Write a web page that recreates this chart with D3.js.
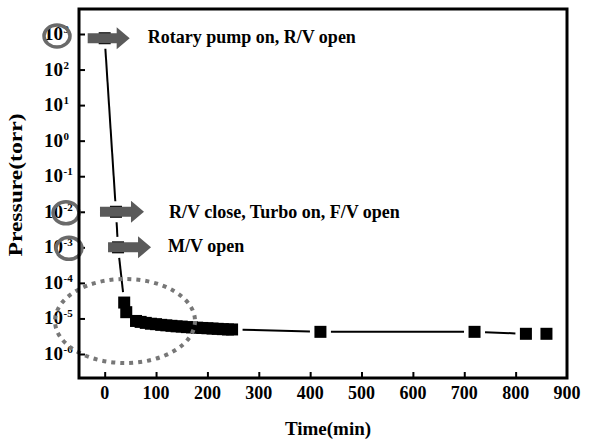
<!DOCTYPE html>
<html>
<head>
<meta charset="utf-8">
<script src="https://cdn.jsdelivr.net/npm/d3@7"></script>
<style>
  html, body { margin: 0; padding: 0; background: #fff; }
  svg { display: block; }
  text { font-family: "Liberation Serif", "Times New Roman", serif; font-weight: bold; fill: #000; }
</style>
</head>
<body>
<svg id="chart" width="594" height="441"></svg>
<script>
// Pump-down record: chamber pressure versus elapsed time
const timeMin = [0, 22, 26, 38, 42, 61, 70, 80, 90, 100, 110, 120, 130, 140, 150,
                 160, 170, 180, 190, 200, 210, 220, 230, 240, 248, 420, 720, 820, 860];
const pressureTorr = [760, 1e-2, 1e-3, 2.8e-5, 1.5e-5, 8.5e-6, 8.0e-6, 7.5e-6, 7.1e-6, 6.9e-6,
                      6.6e-6, 6.4e-6, 6.2e-6, 6.0e-6, 5.9e-6, 5.7e-6, 5.6e-6, 5.5e-6, 5.4e-6,
                      5.3e-6, 5.2e-6, 5.1e-6, 5.0e-6, 4.9e-6, 4.9e-6, 4.2e-6, 4.2e-6, 3.7e-6, 3.7e-6];
const xTickValues = [0, 100, 200, 300, 400, 500, 600, 700, 800, 900];
const yTickExponents = [3, 2, 1, 0, -1, -2, -3, -4, -5, -6];
const calloutTexts = ["Rotary pump on, R/V open", "R/V close, Turbo on, F/V open", "M/V open"];
const calloutPoint = [0, 1, 2];
const circledExponents = [3, -2, -3];
const xTitle = "Time(min)";
const yTitle = "Pressure(torr)";

// Layout of the callouts (pixel offsets from their data point)
const calloutLayout = [
  { tail: -17, tip: 25, text: 43, dy: 5 },
  { tail: -16, tip: 28, text: 53, dy: 6 },
  { tail: -10, tip: 33, text: 50, dy: 5 }
];
const ringLayout = [
  { x: 57, dy: 2 },
  { x: 66, dy: 1 },
  { x: 69, dy: 1 }
];

const svg = d3.select("#chart");
const plot = { left: 79, top: 9, right: 567, bottom: 378 };

const x = d3.scaleLinear().domain([-50, 900]).range([plot.left, plot.right]);
const y = d3.scaleLog().domain([Math.pow(10, -6.675), Math.pow(10, 3.703)]).range([plot.bottom, plot.top]);

const pts = timeMin.map((t, i) => ({ t, p: pressureTorr[i], px: x(t), py: y(pressureTorr[i]) }));

// Axes: ticks point inward
const xAxis = d3.axisBottom(x).tickValues(xTickValues).tickSizeInner(-6).tickSizeOuter(0).tickFormat("");
const gx = svg.append("g").attr("transform", `translate(0,${plot.bottom})`).call(xAxis);
gx.select(".domain").remove();
gx.selectAll(".tick line").attr("stroke", "#000").attr("stroke-width", 2);
gx.selectAll(".tick").filter(d => d === 900).select("line").remove();

const yAxis = d3.axisLeft(y).tickValues(yTickExponents.map(e => Math.pow(10, e)))
  .tickSizeInner(-6).tickSizeOuter(0).tickFormat("");
const gy = svg.append("g").attr("transform", `translate(${plot.left},0)`).call(yAxis);
gy.select(".domain").remove();
gy.selectAll(".tick line").attr("stroke", "#000").attr("stroke-width", 2);

// X tick labels
svg.append("g").selectAll("text").data(xTickValues).join("text")
  .attr("x", d => x(d)).attr("y", 399)
  .attr("text-anchor", "middle").attr("font-size", 18)
  .text(d => d);

// Y tick labels as 10 with a superscript exponent
const yl = svg.append("g").selectAll("g").data(yTickExponents).join("g")
  .attr("transform", e => `translate(63,${y(Math.pow(10, e))})`);
yl.append("text").attr("x", 0).attr("y", 6).attr("text-anchor", "end").attr("font-size", 19).text("10");
yl.append("text").attr("x", 0.5).attr("y", -1).attr("font-size", 11).text(e => e);

// Axis titles
svg.append("text").attr("x", 328).attr("y", 435).attr("text-anchor", "middle")
  .attr("font-size", 19).text(xTitle);
svg.append("text").attr("transform", "translate(22,185) rotate(-90)")
  .attr("text-anchor", "middle").attr("font-size", 19)
  .attr("textLength", 143).attr("lengthAdjust", "spacingAndGlyphs")
  .text(yTitle);

// Connecting line segments, kept clear of the symbols
const gap = 10.5;
const segs = [];
for (let i = 0; i < pts.length - 1; i++) {
  const a = pts[i], b = pts[i + 1];
  const dx = b.px - a.px, dy = b.py - a.py;
  const len = Math.hypot(dx, dy);
  if (len > 2 * gap + 1) {
    const ux = dx / len, uy = dy / len;
    segs.push([a.px + ux * gap, a.py + uy * gap, b.px - ux * gap, b.py - uy * gap]);
  }
}
svg.append("g").selectAll("line").data(segs).join("line")
  .attr("x1", d => d[0]).attr("y1", d => d[1]).attr("x2", d => d[2]).attr("y2", d => d[3])
  .attr("stroke", "#000").attr("stroke-width", 2);

// Square symbols
const sq = 12;
svg.append("g").selectAll("rect").data(pts).join("rect")
  .attr("x", d => d.px - sq / 2).attr("y", d => d.py - sq / 2)
  .attr("width", sq).attr("height", sq).attr("fill", "#000");

// Callout arrows and texts
const arrowG = svg.append("g");
calloutTexts.forEach((txt, i) => {
  const p = pts[calloutPoint[i]];
  const L = calloutLayout[i];
  const x0 = p.px + L.tail, x2 = p.px + L.tip, x1 = x2 - 13;
  const cy = p.py;
  const path = d3.path();
  path.moveTo(x0, cy - 5);
  path.lineTo(x1, cy - 5);
  path.lineTo(x1, cy - 11);
  path.lineTo(x2, cy);
  path.lineTo(x1, cy + 11);
  path.lineTo(x1, cy + 5);
  path.lineTo(x0, cy + 5);
  path.closePath();
  arrowG.append("path").attr("d", path.toString()).attr("fill", "#5a5a5a");
  arrowG.append("text").attr("x", p.px + L.text).attr("y", cy + L.dy)
    .attr("font-size", 18).text(txt);
});

// Rings around the highlighted pressure levels
svg.append("g").selectAll("ellipse").data(circledExponents).join("ellipse")
  .attr("cx", (e, i) => ringLayout[i].x)
  .attr("cy", (e, i) => y(Math.pow(10, e)) + ringLayout[i].dy)
  .attr("rx", 13).attr("ry", 11)
  .attr("fill", "none").attr("stroke", "#6a6a6a").attr("stroke-width", 3.5);

// Dotted ellipse around the base-pressure region
svg.append("ellipse")
  .attr("cx", 125).attr("cy", 321).attr("rx", 70).attr("ry", 42)
  .attr("fill", "none").attr("stroke", "#777").attr("stroke-width", 4)
  .attr("stroke-dasharray", "4 5");

// Plot frame
svg.append("rect")
  .attr("x", plot.left).attr("y", plot.top)
  .attr("width", plot.right - plot.left).attr("height", plot.bottom - plot.top)
  .attr("fill", "none").attr("stroke", "#000").attr("stroke-width", 3);
</script>
</body>
</html>
